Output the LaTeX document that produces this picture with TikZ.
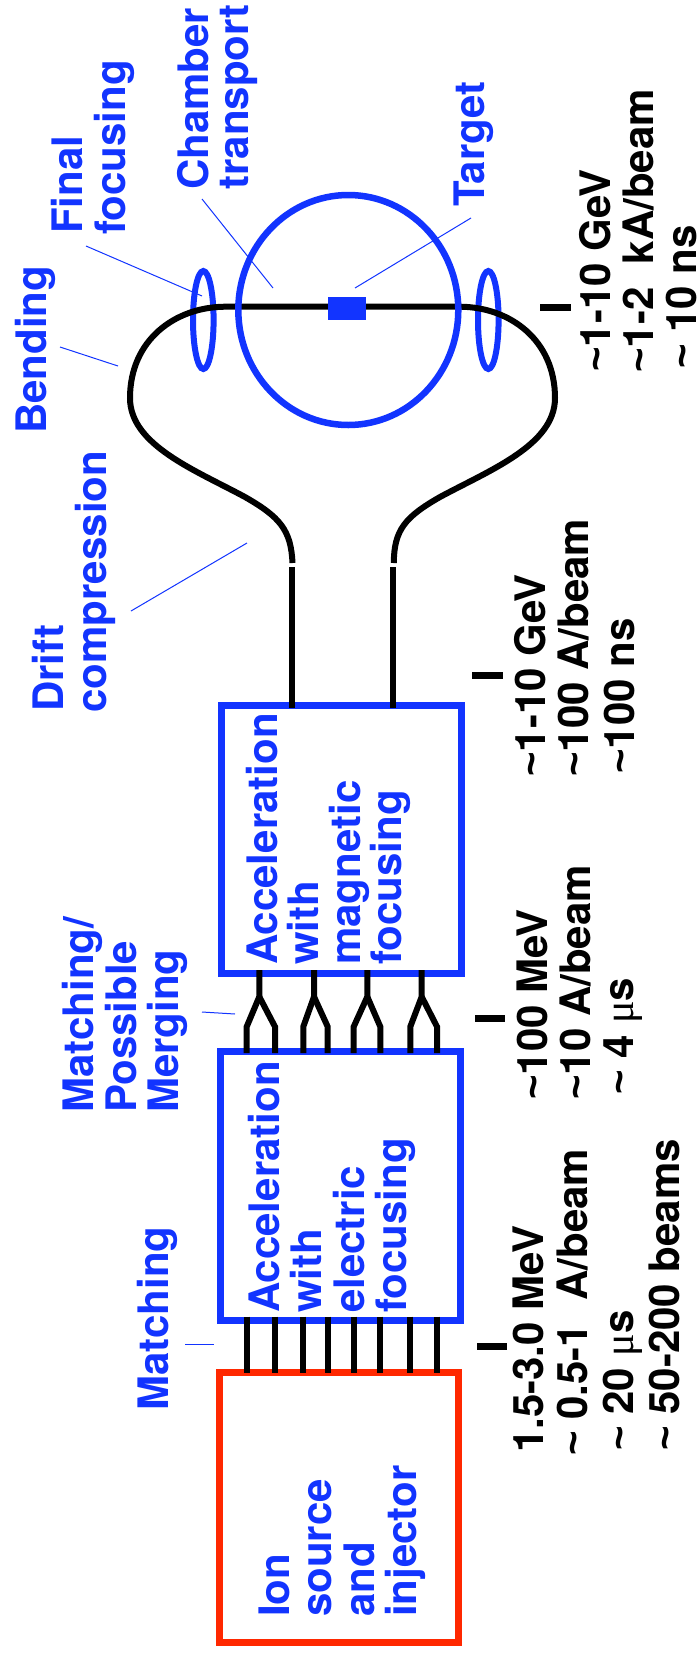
\documentclass[tikz,border=0pt]{standalone}
\usepackage{fontspec}
\setmainfont{TeX Gyre Heros}
\newfontfamily\mufont{Liberation Serif}
\newfontfamily\tlfont{Liberation Sans}
\usetikzlibrary{shapes.geometric}
\definecolor{fblue}{RGB}{18,52,255}
\definecolor{fred}{RGB}{255,40,0}
\newcommand{\mus}{{\mufont\mdseries\char"03BC}s}
\newcommand{\tl}{{\tlfont\bfseries\char"007E}}
\begin{document}
\begin{tikzpicture}[x=1pt,y=-1pt,
  boxstyle/.style={draw=#1, line width=7pt, inner sep=0pt, outer sep=0pt},
  beam/.style={line width=6pt, draw=black},
  loopline/.style={line width=6pt, draw=black},
  lbl/.style={rotate=90, anchor=base west, inner sep=0pt, text=fblue, font=\fontsize{42}{42}\selectfont\bfseries},
  dat/.style={rotate=90, anchor=base west, inner sep=0pt, text=black, font=\fontsize{42}{42}\selectfont\bfseries},
  leader/.style={draw=fblue, line width=1pt},
  tickmark/.style={line width=7pt, draw=black},
  ring/.style={draw=fblue, ellipse, inner sep=0pt, outer sep=0pt}]
\fill[white] (0,0) rectangle (700,1655);
\useasboundingbox (0,0) rectangle (700,1655);

% boxes
\node[boxstyle=fred, minimum width=238.7pt, minimum height=269.5pt] (src) at (338.65,1507.25) {};
\node[boxstyle=fblue, minimum width=240pt, minimum height=268.3pt] (ele) at (340,1185.85) {};
\node[boxstyle=fblue, minimum width=240pt, minimum height=268.5pt] (mag) at (341.7,839.25) {};

% beam lines source -> electric
\foreach \x in {246.7,274.7,303,327.7,353.7,380.3,410.3,437}
  \draw[beam] (\x,1316.5) -- (\x,1373);

% merging Y's electric -> magnetic
\foreach \a/\b/\s in {246.7/275/259.3, 303.3/327.7/314, 353.7/380.3/367.3, 410.3/437/421.7}{
  \draw[beam] (\a,1053) -- (\a,1026.7) -- (\s,996.7) -- (\s,970);
  \draw[beam] (\b,1053) -- (\b,1026.7) -- (\s,996.7);
}

% beams to drift / loop
\draw[beam] (291.7,708) -- (291.7,566.5);
\draw[beam] (393.3,708) -- (393.3,566.5);

% small focusing ellipses
\node[ring, line width=6pt, minimum width=20.6pt, minimum height=98pt] (ffl) at (203.3,320) {};
\node[ring, line width=6pt, minimum width=20.6pt, minimum height=98pt] (ffr) at (488.3,320) {};

% loop
\draw[loopline] (292.5,563) .. controls (291,530) and (280,517) .. (245,497)
  .. controls (195,470) and (130,445) .. (130,398)
  .. controls (130,340) and (175,307) .. (225,306.7)
  -- (460,306.7)
  .. controls (510,307) and (555,340) .. (555,398)
  .. controls (555,445) and (490,470) .. (440,497)
  .. controls (405,517) and (394,530) .. (393.8,563);

% chamber
\node[ring, line width=6.5pt, minimum width=220pt, minimum height=230pt] (chamber) at (348.3,310) {};
\node[fill=fblue, inner sep=0pt, minimum width=37.7pt, minimum height=23.3pt] (target) at (347.2,308.3) {};

% blue labels
\node[lbl] (ff1) at (82,234) {Final};
\node[lbl] (ff2) at (125,235) {focusing};
\node[lbl] (ch1) at (208,190) {Chamber};
\node[lbl] (ch2) at (248,190) {transport};
\node[lbl] (tg) at (484,207) {Target};
\node[lbl] (bd) at (46,434) {Bending};
\node[lbl] (dc1) at (63,712) {Drift};
\node[lbl] (dc2) at (106,713) {compression};
\node[lbl] (mm1) at (93,1113) {Matching/};
\node[lbl] (mm2) at (136,1113) {Possible};
\node[lbl] (mm3) at (178,1113) {Merging};
\node[lbl] (mt) at (168,1411) {Matching};

% box texts
\node[lbl] (s1) at (289,1617) {Ion};
\node[lbl] (s2) at (331,1617) {source};
\node[lbl] (s3) at (374,1617) {and};
\node[lbl] (s4) at (416,1617) {injector};
\node[lbl] (e1) at (279,1313) {Acceleration};
\node[lbl] (e2) at (321.5,1313) {with};
\node[lbl] (e3) at (364,1313) {electric};
\node[lbl] (e4) at (406.5,1313) {focusing};
\node[lbl] (m1) at (277,965) {Acceleration};
\node[lbl] (m2) at (318.5,965) {with};
\node[lbl] (m3) at (360,965) {magnetic};
\node[lbl] (m4) at (401.7,965) {focusing};

% leaders
\draw[leader] (86,246) -- (202,296);
\draw[leader] (202,199) -- (273,288);
\draw[leader] (471,218) -- (355,288);
\draw[leader] (60,347) -- (118,366);
\draw[leader] (131,611) -- (247,543);
\draw[leader] (202,1012) -- (235,1014);
\draw[leader] (185,1344) -- (214,1344);

% ticks
\draw[tickmark] (540,307) -- (571,307);
\draw[tickmark] (472,675) -- (503,675);
\draw[tickmark] (475,1018) -- (505,1018);
\draw[tickmark] (477,1346) -- (507,1346);

% data texts
\node[dat] (a1) at (610,372) {\tl1-10 GeV};
\node[dat] (a2) at (653,373) {\tl1-2\ \ kA/beam};
\node[dat, text depth=0pt] (a3) at (696,369) {\tl\ 10 ns};
\node[dat] (b1) at (545,777) {\tl1-10 GeV};
\node[dat] (b2) at (588,777) {\tl100 A/beam};
\node[dat] (b3) at (634,774) {\tl100 ns};
\node[dat] (c1) at (547,1100) {\tl100 MeV};
\node[dat] (c2) at (590,1100) {\tl10 A/beam};
\node[dat] (c3) at (633,1095) {\tl\ 4 \mus};
\node[dat] (d1) at (543,1453) {1.5-3.0 MeV};
\node[dat] (d2) at (587,1456) {\tl\ 0.5-1\ \ A/beam};
\node[dat] (d3) at (633,1451) {\tl\ 20 \mus};
\node[dat, text depth=0pt] (d4) at (679,1451) {\tl\ 50-200 beams};
\end{tikzpicture}
\end{document}
